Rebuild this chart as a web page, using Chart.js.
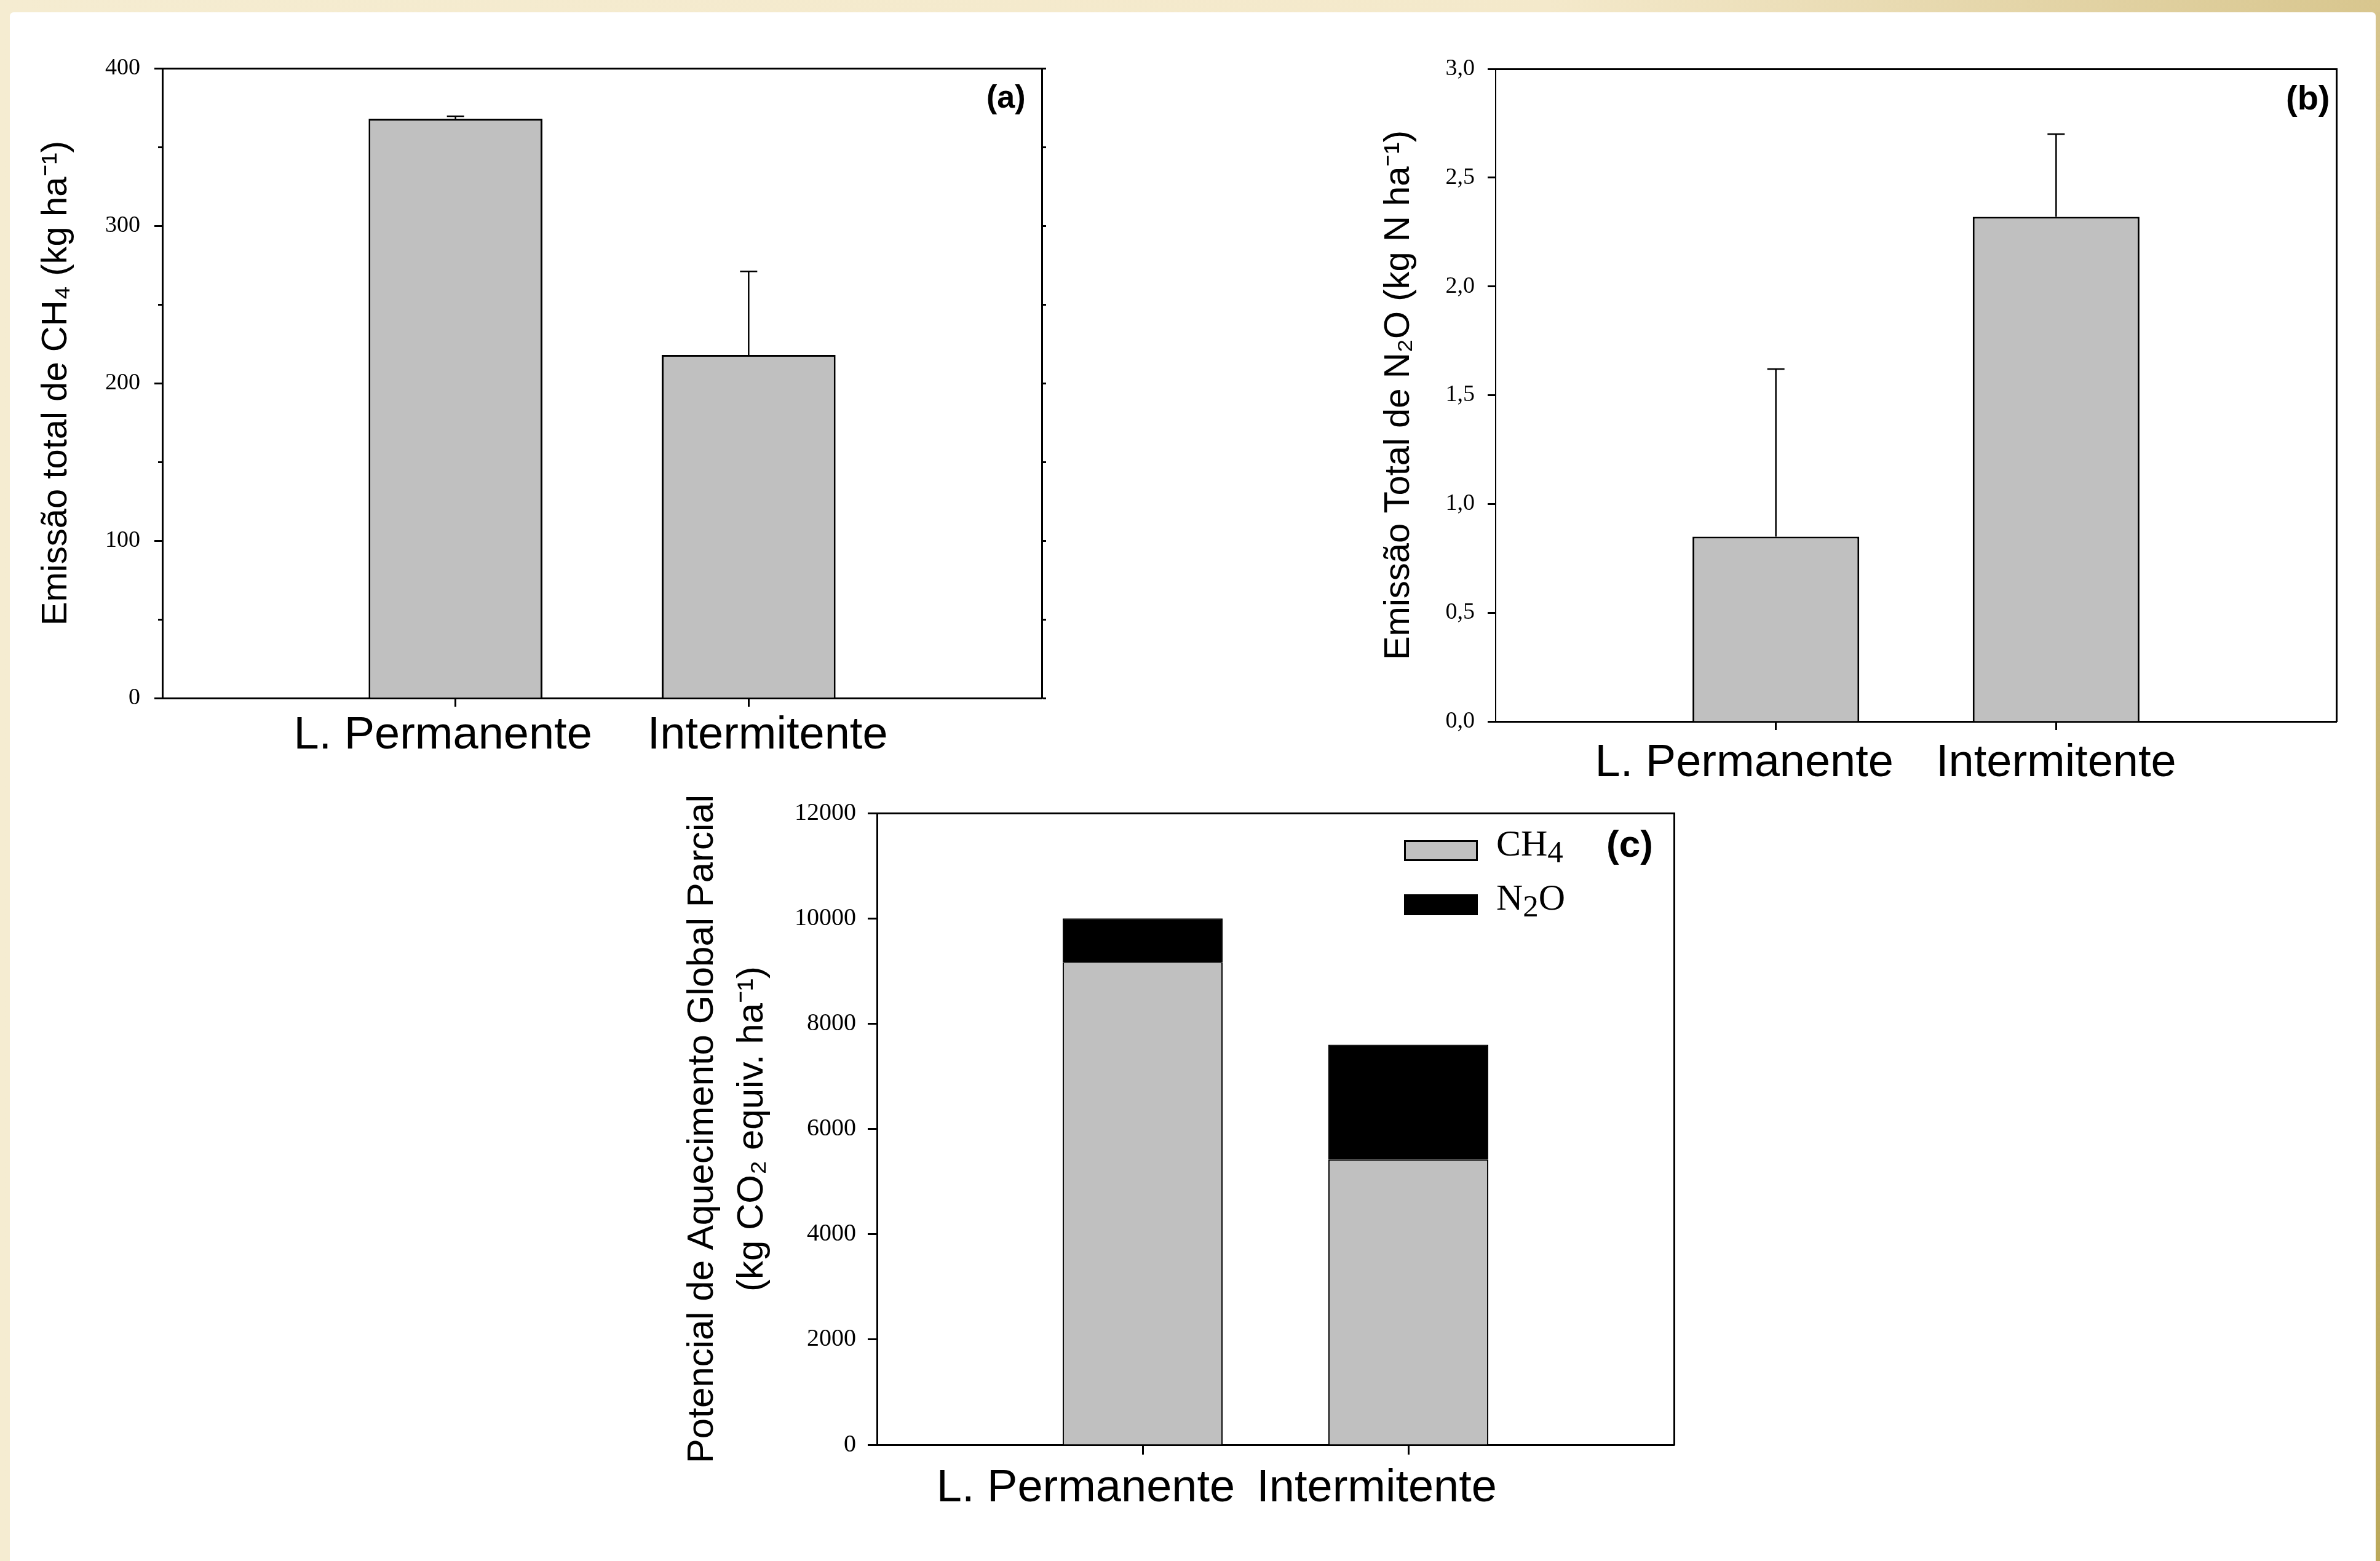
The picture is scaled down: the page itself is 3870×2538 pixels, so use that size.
<!DOCTYPE html>
<html>
<head>
<meta charset="utf-8">
<script src="https://cdn.jsdelivr.net/npm/chart.js@4.4.1/dist/chart.umd.min.js"></script>
<style>
  html, body { margin: 0; padding: 0; }
  body {
    width: 3870px; height: 2538px; position: relative; overflow: hidden;
    background: linear-gradient(to right, #F5ECD1 0%, #F4E9CB 65%, #D8C68E 100%);
  }
  #sheet { position: absolute; left: 16px; top: 20px; width: 3847px; height: 2540px; background: #fff; border-radius: 6px 6px 0 0; }
  #stripe { position: absolute; left: 3863px; top: 20px; width: 7px; height: 2518px; background: linear-gradient(to bottom, #D6C48C, #BBA85A); }
  canvas { position: absolute; }
  .tag { position: absolute; font-family: "Liberation Sans", Arial, sans-serif; font-weight: bold; line-height: 1; color: #000; white-space: nowrap; }
  #legendC { position: absolute; left: 2283px; top: 1341px; font-family: "Liberation Serif", "Times New Roman", serif; font-size: 60px; color: #000; }
  .lg-row { display: flex; align-items: flex-start; height: 60px; margin-bottom: 28px; }
  .lg-box { display: inline-block; width: 120px; height: 34px; margin-top: 25px; margin-right: 30px; box-sizing: border-box; border: 3px solid #000; }
  .lg-text { line-height: 60px; white-space: nowrap; }
  .lg-text sub { font-size: 0.85em; vertical-align: -0.22em; line-height: 0; }
</style>
</head>
<body>
<div id="sheet"></div>
<div id="stripe"></div>

<canvas id="cA" width="1680" height="1220" style="left:40px;top:50px"></canvas>
<canvas id="cB" width="1680" height="1250" style="left:2160px;top:50px"></canvas>
<canvas id="cC" width="1680" height="1270" style="left:1080px;top:1260px"></canvas>

<div class="tag" style="left:1604px;top:131px;font-size:52px">(a)</div>
<div class="tag" style="left:3717px;top:131px;font-size:56px">(b)</div>
<div class="tag" style="left:2612px;top:1341px;font-size:62px">(c)</div>
<div id="legendC"></div>

<script>
// ---------------- data ----------------
const categories = ['L. Permanente', 'Intermitente'];

// (a) total CH4 emission (kg ha-1) with upper error bars
const ch4Total = [368, 218];
const ch4Err   = [1.5, 53];
const ticksA   = ['0', '100', '200', '300', '400'];

// (b) total N2O emission (kg N ha-1) with upper error bars
const n2oTotal = [0.85, 2.32];
const n2oErr   = [0.77, 0.38];
const ticksB   = ['0,0', '0,5', '1,0', '1,5', '2,0', '2,5', '3,0'];

// (c) partial global warming potential (kg CO2 equiv. ha-1), stacked
const gases  = ['CH₄', 'N₂O'];
const gwpCH4 = [9170, 5420];
const gwpN2O = [830, 2180];
const ticksC = ['0', '2000', '4000', '6000', '8000', '10000', '12000'];

// ---------------- helpers ----------------
// categories sit at 1/3 and 2/3 of the axis in the original: empty slots at both ends
const slots = ['', ...categories, ''];
const pad = arr => [null, ...arr, null];

const serif = '"Liberation Serif", "Times New Roman", serif';
const sans  = '"Liberation Sans", Arial, sans-serif';
Chart.defaults.color = '#000';

const fixW = w => s => { s.width = w; };
const fixH = h => s => { s.height = h; };
const edgeless = c => (c.index === 0 || c.index === slots.length - 1) ? 'rgba(0,0,0,0)' : '#000';

// small horizontal nudges of the category texts (in no-break spaces), as in the original
function catLabel(nudge) {
  return function (value, index) {
    const s = this.getLabelForValue(value);
    const n = nudge[index] || 0;
    const sp = '\u00A0'.repeat(Math.abs(n));
    return n > 0 ? sp + s : s + sp;
  };
}

const errorBars = {
  id: 'errorBars',
  afterDatasetsDraw(chart, args, opts) {
    const ctx = chart.ctx;
    chart.data.datasets.forEach((ds, di) => {
      if (!ds.errors) return;
      const meta = chart.getDatasetMeta(di);
      const yScale = chart.scales[meta.yAxisID];
      meta.data.forEach((bar, i) => {
        const v = ds.data[i], e = ds.errors[i];
        if (v == null || e == null) return;
        const yTop = yScale.getPixelForValue(v + e);
        ctx.save();
        ctx.strokeStyle = '#000';
        ctx.lineWidth = opts.lineWidth;
        ctx.beginPath();
        ctx.moveTo(bar.x, bar.y);
        ctx.lineTo(bar.x, yTop);
        ctx.moveTo(bar.x - opts.cap, yTop);
        ctx.lineTo(bar.x + opts.cap, yTop);
        ctx.stroke();
        ctx.restore();
      });
    });
  }
};

function xAxes(nudge, tickLen, labelPad, height) {
  return {
    x: {
      type: 'category', position: 'bottom', offset: false,
      grid: { offset: false, drawOnChartArea: false, tickLength: tickLen, tickWidth: 3, tickColor: edgeless },
      border: { color: '#000', width: 3 },
      ticks: { autoSkip: false, maxRotation: 0, minRotation: 0, padding: labelPad, color: '#000',
               font: { family: sans, size: 74 }, callback: catLabel(nudge) },
      afterFit: fixH(height)
    },
    xTop: {
      type: 'category', position: 'top', offset: false,
      grid: { display: false, drawTicks: false }, ticks: { display: false },
      border: { color: '#000', width: 3 },
      afterFit: fixH(0)
    }
  };
}

const common = {
  responsive: false, animation: false, devicePixelRatio: 1, events: [],
};

// ---------------- (a) ----------------
new Chart(document.getElementById('cA'), {
  type: 'bar',
  data: {
    labels: slots,
    datasets: [{
      label: 'CH₄', data: pad(ch4Total), errors: pad(ch4Err),
      backgroundColor: '#C0C0C0', borderColor: '#000', borderWidth: 3,
      categoryPercentage: 1, barPercentage: 0.593
    }]
  },
  options: Object.assign({}, common, {
    layout: { padding: { left: 0, top: 61, right: 16, bottom: 0 } },
    plugins: { legend: { display: false }, tooltip: { enabled: false }, errorBars: { cap: 14, lineWidth: 2.5 } },
    scales: Object.assign(xAxes([0, -2, 3, 0], 14, 3, 135), {
      y: {
        position: 'left', weight: 1, min: 0, max: 400,
        ticks: { stepSize: 100, padding: 23, color: '#000', font: { family: serif, size: 38 }, callback: (v, i) => ticksA[i] },
        grid: { drawOnChartArea: false, tickLength: 13, tickWidth: 3, tickColor: '#000' },
        border: { color: '#000', width: 3 },
        title: { display: true, text: 'Emissão total de CH₄ (kg ha⁻¹)', color: '#000',
                 font: { family: sans, size: 58, lineHeight: 1.2 }, padding: { top: 17, bottom: 0 } },
        afterFit: fixW(224)
      },
      yMinor: {
        position: 'left', weight: 0, min: 0, max: 400,
        ticks: { display: false, stepSize: 50 },
        grid: { drawOnChartArea: false, tickLength: 7, tickWidth: 3, tickColor: '#000' },
        border: { display: false },
        afterFit: fixW(0)
      },
      yRight: {
        position: 'right', min: 0, max: 400,
        ticks: { display: false, stepSize: 50 },
        grid: { drawOnChartArea: false, tickLength: 7, tickWidth: 3, tickColor: '#000' },
        border: { color: '#000', width: 3 },
        afterFit: fixW(10)
      }
    })
  }),
  plugins: [errorBars]
});

// ---------------- (b) ----------------
new Chart(document.getElementById('cB'), {
  type: 'bar',
  data: {
    labels: slots,
    datasets: [{
      label: 'N₂O', data: pad(n2oTotal), errors: pad(n2oErr),
      backgroundColor: '#C0C0C0', borderColor: '#000', borderWidth: 3,
      categoryPercentage: 1, barPercentage: 0.595
    }]
  },
  options: Object.assign({}, common, {
    layout: { padding: { left: 0, top: 62, right: 41, bottom: 0 } },
    plugins: { legend: { display: false }, tooltip: { enabled: false }, errorBars: { cap: 14, lineWidth: 2.5 } },
    scales: Object.assign(xAxes([0, -5, 0, 0], 14, 10, 127), {
      y: {
        position: 'left', min: 0, max: 3,
        ticks: { stepSize: 0.5, padding: 21, color: '#000', font: { family: serif, size: 38 }, callback: (v, i) => ticksB[i] },
        grid: { drawOnChartArea: false, tickLength: 13, tickWidth: 3, tickColor: '#000' },
        border: { color: '#000', width: 2 },
        title: { display: true, text: 'Emissão Total de N₂O (kg N ha⁻¹)', color: '#000',
                 font: { family: sans, size: 58, lineHeight: 1.2 }, padding: { top: 80, bottom: 0 } },
        afterFit: fixW(272)
      },
      yRight: {
        position: 'right', min: 0, max: 3,
        ticks: { display: false },
        grid: { drawOnChartArea: false, drawTicks: false },
        border: { color: '#000', width: 3 },
        afterFit: fixW(0)
      }
    })
  }),
  plugins: [errorBars]
});

// ---------------- (c) ----------------
const chartC = new Chart(document.getElementById('cC'), {
  type: 'bar',
  data: {
    labels: slots,
    datasets: [
      { label: gases[0], data: pad(gwpCH4), backgroundColor: '#C0C0C0', borderColor: '#000', borderWidth: 2,
        categoryPercentage: 1, barPercentage: 0.602 },
      { label: gases[1], data: pad(gwpN2O), backgroundColor: '#000000', borderColor: '#000', borderWidth: 2,
        categoryPercentage: 1, barPercentage: 0.602 }
    ]
  },
  options: Object.assign({}, common, {
    layout: { padding: { left: 0, top: 62, right: 38, bottom: 0 } },
    plugins: { legend: { display: false }, tooltip: { enabled: false } },
    scales: Object.assign(xAxes([0, -9, -5, 0], 16, 11, 181), {
      y: {
        position: 'left', min: 0, max: 12000, stacked: true,
        ticks: { stepSize: 2000, padding: 19, color: '#000', font: { family: serif, size: 40 }, callback: (v, i) => ticksC[i] },
        grid: { drawOnChartArea: false, tickLength: 15, tickWidth: 3, tickColor: '#000' },
        border: { color: '#000', width: 3 },
        title: { display: true, text: ['Potencial de Aquecimento Global Parcial', '(kg CO₂ equiv. ha⁻¹)'], color: '#000',
                 font: { family: sans, size: 60, lineHeight: 1.35 }, padding: { top: 22, bottom: 0 } },
        afterFit: fixW(346)
      },
      yRight: {
        position: 'right', min: 0, max: 12000,
        ticks: { display: false },
        grid: { drawOnChartArea: false, drawTicks: false },
        border: { color: '#000', width: 3 },
        afterFit: fixW(0)
      }
    })
  })
});
chartC.options.scales.x.stacked = true;
chartC.update();

// HTML legend for (c), built from the chart's own legend items
(function () {
  let items;
  try { items = Chart.defaults.plugins.legend.labels.generateLabels(chartC); }
  catch (e) {
    items = chartC.data.datasets.map(d => ({ text: d.label, fillStyle: d.backgroundColor, strokeStyle: d.borderColor }));
  }
  const lg = document.getElementById('legendC');
  items.forEach(it => {
    const row = document.createElement('div'); row.className = 'lg-row';
    const box = document.createElement('span'); box.className = 'lg-box';
    box.style.background = it.fillStyle; box.style.borderColor = it.strokeStyle || '#000';
    const txt = document.createElement('span'); txt.className = 'lg-text';
    txt.innerHTML = it.text.replace(/[\u2080-\u2089]/g, c => '<sub>' + (c.charCodeAt(0) - 0x2080) + '</sub>');
    row.appendChild(box); row.appendChild(txt); lg.appendChild(row);
  });
})();
</script>
</body>
</html>
